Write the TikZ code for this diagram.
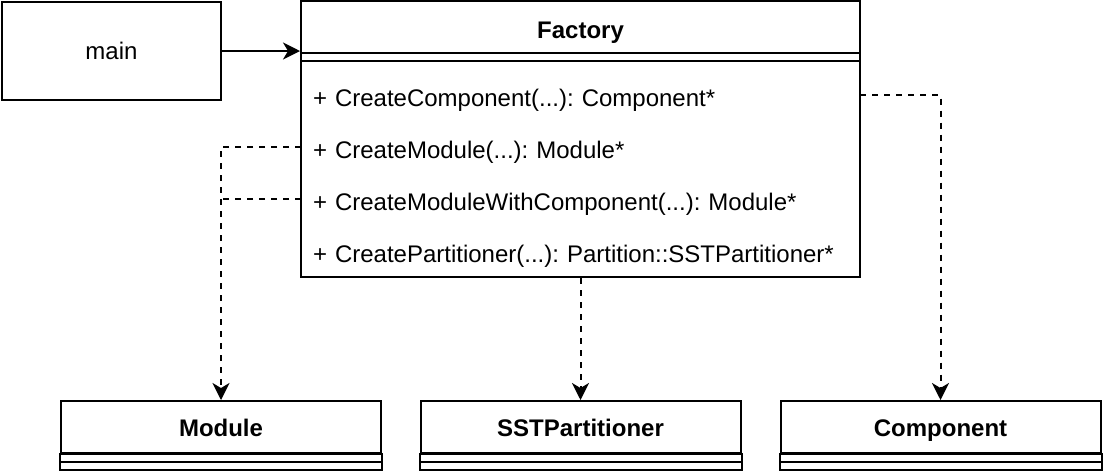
\documentclass[tikz,border=0pt]{standalone}
\usepackage{fontspec}
\setmainfont{Liberation Sans}
\usetikzlibrary{
	positioning,
	arrows.meta
}
\frenchspacing

\begin{document}
\begin{tikzpicture}[x=0.5pt,y=-0.5pt,
		font=\fontsize{12}{14}\selectfont,
		line width=1pt,
		box/.style={draw,rectangle,inner sep=0pt,text height=9.6pt,text depth=1.4pt},
		classhead/.style={box,font=\fontsize{12}{14}\selectfont\bfseries,minimum width=160pt,minimum height=26pt,
			text height=10.1pt,text depth=0.9pt},
		method/.style={rectangle,outer sep=0pt,inner xsep=6pt,inner ysep=0pt,text width=267.5pt,align=left,
			text height=11.6pt,text depth=0.4pt,minimum height=26pt},
		tip/.style={-{Stealth[length=8.5pt,width=8.5pt,inset=2.5pt]}},
		dep/.style={dash pattern=on 3pt off 3pt}
	]
	\useasboundingbox (0,0) rectangle (1104,472);

	% caller and factory
	\node [box,minimum width=109.5pt,minimum height=49pt] (main) at (111.5,51) {main};
	\node [box,minimum width=279.5pt,minimum height=138pt] (factory) at (580.5,139) {};
	\node [rectangle,outer sep=0pt,inner sep=0pt,minimum width=279.5pt,minimum height=26pt,
		text height=11.6pt,text depth=0.4pt,font=\fontsize{12}{14}\selectfont\bfseries] (fhead) at (580.5,27) {Factory};
	\draw (fhead.south west) -- (fhead.south east);
	\draw ([yshift=-4pt]fhead.south west) -- ([yshift=-4pt]fhead.south east);

	% methods
	\node [method,anchor=north west]    (mcomp)  at ([yshift=-8pt]fhead.south west) {+ CreateComponent(...): Component*};
	\node [method,below=0pt of mcomp]   (mmod)   {+ CreateModule(...): Module*};
	\node [method,below=0pt of mmod]    (mmodwc) {+ CreateModuleWithComponent(...): Module*};
	\node [method,below=0pt of mmodwc]  (mpart)  {+ CreatePartitioner(...): Partition::SSTPartitioner*};

	% products
	\node [classhead] (module)    at (221,427)   {Module};
	\node [classhead] (sstpart)   at (580.5,427) {SSTPartitioner};
	\node [classhead] (component) at (940.5,427) {Component};
	\foreach \n in {module,sstpart,component} {
		\draw (\n.south west) rectangle ([yshift=-8pt]\n.south east);
		\draw ([yshift=-4pt]\n.south west) -- ([yshift=-4pt]\n.south east);
	}

	% connectors
	\draw [tip] (main.east) -- (main.east -| factory.west);
	\draw [dep,tip] (mmod.west) -| (module.north);
	\draw [dep] (mmodwc.west) -- (mmodwc.west -| module.north);
	\draw [dep,tip] (factory.south) -- (sstpart.north);
	\draw [dep,tip] (mcomp.east) -| (component.north);
\end{tikzpicture}
\end{document}
